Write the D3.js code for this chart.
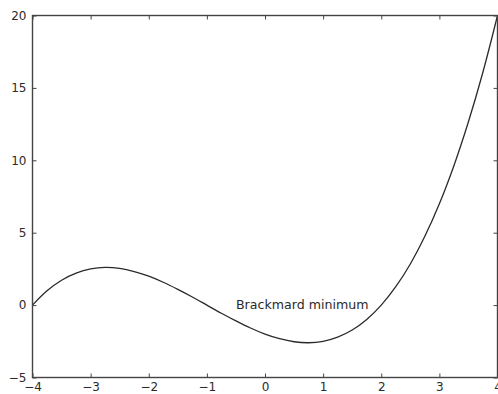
<!DOCTYPE html>
<html>
<head>
<meta charset="utf-8">
<script src="https://cdn.jsdelivr.net/npm/d3@7"></script>
<style>
  html, body { margin: 0; padding: 0; background: #fff; }
  svg { display: block; }
  text { font-family: "DejaVu Sans", sans-serif; }
</style>
</head>
<body>
<svg id="chart" width="498" height="394"></svg>
<script>
// Sampled curve points
const xValues = [-4, -3.75, -3.5, -3.25, -3, -2.75, -2.5, -2.25, -2, -1.75, -1.5, -1.25, -1, -0.75, -0.5, -0.25,
                 0, 0.25, 0.5, 0.75, 1, 1.25, 1.5, 1.75, 2, 2.25, 2.5, 2.75, 3, 3.25, 3.5, 3.75, 4];
const yValues = [0, 0.99, 1.72, 2.21, 2.5, 2.6, 2.53, 2.32, 2, 1.58, 1.09, 0.56, 0, -0.56, -1.09, -1.58,
                 -2, -2.32, -2.53, -2.6, -2.5, -2.21, -1.72, -0.99, 0, 1.27, 2.84, 4.75, 7, 9.63, 12.66, 16.1, 20];

const xTicks = [-4, -3, -2, -1, 0, 1, 2, 3, 4];
const yTicks = [-5, 0, 5, 10, 15, 20];
const xDomain = [-4, 4];
const yDomain = [-5, 20];

const annotation = { text: "Brackmard minimum", x: -0.5, y: 0 };

const svg = d3.select("#chart");
const plotLeft = 32.5, plotRight = 497.5, plotTop = 15.5, plotBottom = 377.5;

const x = d3.scaleLinear().domain(xDomain).range([plotLeft, plotRight]);
const y = d3.scaleLinear().domain(yDomain).range([plotBottom, plotTop]);

const tickLen = 4;
const axisColor = "#444";
const textColor = "#2a2a2a";
const fmt = d => d < 0 ? "\u2212" + Math.abs(d) : String(d);

// curve
const points = xValues.map((v, i) => [v, yValues[i]]);
svg.append("path")
  .datum(points)
  .attr("fill", "none")
  .attr("stroke", "#2a2a2a")
  .attr("stroke-width", 1.3)
  .attr("d", d3.line().x(d => x(d[0])).y(d => y(d[1])).curve(d3.curveCatmullRom));

// annotation, vertically centred on its anchor point
svg.append("text")
  .attr("x", x(annotation.x))
  .attr("y", y(annotation.y))
  .attr("dy", "0.3em")
  .attr("font-size", 12.6)
  .attr("fill", textColor)
  .text(annotation.text);

// axes with inward ticks on all four sides
const bottomAxis = d3.axisBottom(x).tickValues(xTicks).tickFormat(fmt).tickSizeInner(-tickLen).tickSizeOuter(0).tickPadding(5);
const topAxis = d3.axisTop(x).tickValues(xTicks).tickFormat("").tickSizeInner(-tickLen).tickSizeOuter(0);
const leftAxis = d3.axisLeft(y).tickValues(yTicks).tickFormat(fmt).tickSizeInner(-tickLen).tickSizeOuter(0).tickPadding(6);
const rightAxis = d3.axisRight(y).tickValues(yTicks).tickFormat("").tickSizeInner(-tickLen).tickSizeOuter(0);

function style(g) {
  g.select(".domain").remove();
  g.selectAll("line").attr("stroke", axisColor);
  g.selectAll("text").attr("font-size", 12).attr("fill", textColor).attr("font-family", "DejaVu Sans, sans-serif");
}

svg.append("g").attr("transform", `translate(0,${plotBottom})`).call(bottomAxis).call(style);
svg.append("g").attr("transform", `translate(0,${plotTop})`).call(topAxis).call(style);
svg.append("g").attr("transform", `translate(${plotLeft},0)`).call(leftAxis).call(style);
svg.append("g").attr("transform", `translate(${plotRight},0)`).call(rightAxis).call(style);

// frame
svg.append("rect")
  .attr("x", plotLeft).attr("y", plotTop)
  .attr("width", plotRight - plotLeft).attr("height", plotBottom - plotTop)
  .attr("fill", "none")
  .attr("stroke", axisColor)
  .attr("stroke-width", 1.4);
</script>
</body>
</html>
